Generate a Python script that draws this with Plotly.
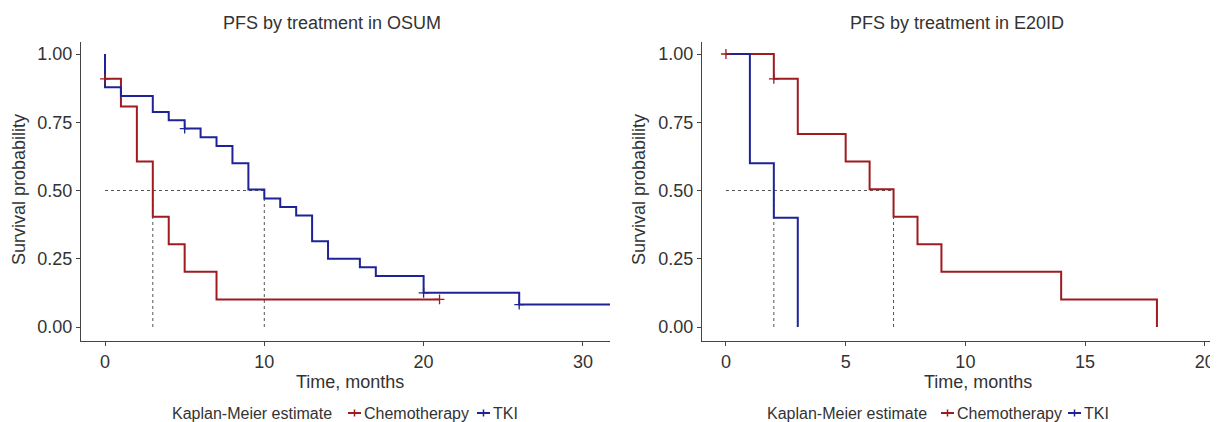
import plotly.graph_objects as go

# ---------------- data ----------------
# Panel 1: OSUM
osum_chemo_time = [0, 1, 2, 3, 4, 5, 7, 21]
osum_chemo_surv = [0.909, 0.808, 0.606, 0.404, 0.303, 0.202, 0.101, 0.101]
osum_chemo_cens_time = [0, 21]
osum_chemo_cens_surv = [0.909, 0.101]

osum_tki_time = [0, 0, 1, 3, 4, 5, 6, 7, 8, 9, 10, 11, 12, 13, 14, 16, 17, 20, 26, 33]
osum_tki_surv = [1.0, 0.878, 0.846, 0.788, 0.757, 0.727, 0.695, 0.663, 0.600, 0.504,
                 0.471, 0.440, 0.408, 0.314, 0.250, 0.219, 0.187, 0.125, 0.082, 0.082]
osum_tki_cens_time = [5, 20, 26]
osum_tki_cens_surv = [0.727, 0.125, 0.082]

osum_medians = [3, 10]

# Panel 2: E20ID
e20_chemo_time = [0, 2, 3, 5, 6, 7, 8, 9, 14, 18]
e20_chemo_surv = [1.0, 0.909, 0.707, 0.606, 0.505, 0.404, 0.303, 0.202, 0.101, 0.0]
e20_chemo_cens_time = [0, 2]
e20_chemo_cens_surv = [1.0, 0.909]

e20_tki_time = [0, 1, 2, 3]
e20_tki_surv = [1.0, 0.6, 0.4, 0.0]

e20_medians = [2, 7]

panel_titles = ["PFS by treatment in OSUM", "PFS by treatment in E20ID"]
group_names = ["Chemotherapy", "TKI"]
legend_title = "Kaplan-Meier estimate"
x_title = "Time, months"
y_title = "Survival probability"
y_ticks = [0, 0.25, 0.5, 0.75, 1.0]
x_ticks_osum = [0, 10, 20, 30]
x_ticks_e20 = [0, 5, 10, 15, 20]

# ---------------- styling ----------------
OFF = 8                      # page body margin
W, H = 1218 - OFF, 422 - OFF
RED = "#9e1b1f"
BLUE = "#1f2396"
TXT = "#333333"
AX = "#444444"
FONT = "Liberation Sans, Arial, Helvetica, sans-serif"
FS = 18
FS_LEG = 16


def px(x):
    return (x - OFF) / W


def py(y):
    return 1 - (y - OFF) / H


fig = go.Figure()


def add_panel(xa, ya, ct, cs, cct, ccs, tt, ts, tct, tcs, medians):
    mx = max(medians)
    fig.add_trace(go.Scatter(x=[0, mx], y=[0.5, 0.5], mode="lines",
                             line=dict(color="#555555", width=1, dash="3px,3px"),
                             xaxis=xa, yaxis=ya, showlegend=False, hoverinfo="skip"))
    for m in medians:
        fig.add_trace(go.Scatter(x=[m, m], y=[0, 0.5], mode="lines",
                                 line=dict(color="#555555", width=1, dash="3px,3px"),
                                 xaxis=xa, yaxis=ya, showlegend=False, hoverinfo="skip"))
    fig.add_trace(go.Scatter(x=ct, y=cs, mode="lines", line_shape="hv",
                             line=dict(color=RED, width=2), name=group_names[0],
                             xaxis=xa, yaxis=ya, showlegend=False))
    fig.add_trace(go.Scatter(x=tt, y=ts, mode="lines", line_shape="hv",
                             line=dict(color=BLUE, width=2), name=group_names[1],
                             xaxis=xa, yaxis=ya, showlegend=False))
    fig.add_trace(go.Scatter(x=cct, y=ccs, mode="markers",
                             marker=dict(symbol="cross-thin-open", size=7, color=RED,
                                         line=dict(color=RED, width=1.3)),
                             xaxis=xa, yaxis=ya, showlegend=False, cliponaxis=False))
    if tct:
        fig.add_trace(go.Scatter(x=tct, y=tcs, mode="markers",
                                 marker=dict(symbol="cross-thin-open", size=7, color=BLUE,
                                             line=dict(color=BLUE, width=1.3)),
                                 xaxis=xa, yaxis=ya, showlegend=False, cliponaxis=False))


add_panel("x", "y", osum_chemo_time, osum_chemo_surv, osum_chemo_cens_time, osum_chemo_cens_surv,
          osum_tki_time, osum_tki_surv, osum_tki_cens_time, osum_tki_cens_surv, osum_medians)
add_panel("x2", "y2", e20_chemo_time, e20_chemo_surv, e20_chemo_cens_time, e20_chemo_cens_surv,
          e20_tki_time, e20_tki_surv, [], [], e20_medians)

ydom = [py(341), py(42)]
axis_common = dict(showline=True, linecolor=AX, linewidth=1.2, ticks="outside",
                   ticklen=4, tickcolor=AX, tickwidth=1, showgrid=False, zeroline=False,
                   tickfont=dict(family=FONT, size=FS, color=TXT))

fig.update_layout(
    width=W, height=H,
    margin=dict(l=0, r=0, t=0, b=0),
    paper_bgcolor="white", plot_bgcolor="white",
    font=dict(family=FONT, color=TXT),
    showlegend=False,
    xaxis=dict(domain=[px(81), px(610)], range=[-1.507, 31.70], tickvals=x_ticks_osum,
               anchor="y", **axis_common),
    yaxis=dict(domain=ydom, range=[-0.0513, 1.044], tickvals=y_ticks, tickformat=".2f",
               anchor="x", **axis_common),
    xaxis2=dict(domain=[px(702), 1.0], range=[-1.0, 20.55], tickvals=x_ticks_e20,
                anchor="y2", **axis_common),
    yaxis2=dict(domain=ydom, range=[-0.0513, 1.044], tickvals=y_ticks, tickformat=".2f",
                anchor="x2", **axis_common),
)

ann = []
for t, cx in zip(panel_titles, [332, 957]):
    ann.append(dict(text=t, x=px(cx), y=py(23), xref="paper", yref="paper",
                    xanchor="center", yanchor="middle", showarrow=False,
                    font=dict(family=FONT, size=FS, color=TXT)))
for cx in [350, 978]:
    ann.append(dict(text=x_title, x=px(cx), y=py(382), xref="paper", yref="paper",
                    xanchor="center", yanchor="middle", showarrow=False,
                    font=dict(family=FONT, size=FS, color=TXT)))
for cx in [19, 639]:
    ann.append(dict(text=y_title, x=px(cx), y=py(190), xref="paper", yref="paper",
                    xanchor="center", yanchor="middle", showarrow=False, textangle=-90,
                    font=dict(family=FONT, size=FS, color=TXT)))

shapes = []
LY = 413
for x0, sym1, txt1, sym2, txt2 in [(170, 348, 362, 477, 491), (765, 941, 955, 1068, 1082)]:
    ann.append(dict(text=legend_title, x=px(x0), y=py(LY), xref="paper", yref="paper",
                    xanchor="left", yanchor="middle", showarrow=False,
                    font=dict(family=FONT, size=FS_LEG, color=TXT)))
    ann.append(dict(text=group_names[0], x=px(txt1), y=py(LY), xref="paper", yref="paper",
                    xanchor="left", yanchor="middle", showarrow=False,
                    font=dict(family=FONT, size=FS_LEG, color=TXT)))
    ann.append(dict(text=group_names[1], x=px(txt2), y=py(LY), xref="paper", yref="paper",
                    xanchor="left", yanchor="middle", showarrow=False,
                    font=dict(family=FONT, size=FS_LEG, color=TXT)))
    for sx, col in [(sym1, RED), (sym2, BLUE)]:
        shapes.append(dict(type="line", xref="paper", yref="paper",
                           x0=px(sx), x1=px(sx + 13), y0=py(LY), y1=py(LY),
                           line=dict(color=col, width=2)))
        shapes.append(dict(type="line", xref="paper", yref="paper",
                           x0=px(sx + 6.5), x1=px(sx + 6.5), y0=py(LY - 3.5), y1=py(LY + 3.5),
                           line=dict(color=col, width=1.5)))

fig.update_layout(annotations=ann, shapes=shapes)
fig.write_html("out.html")
